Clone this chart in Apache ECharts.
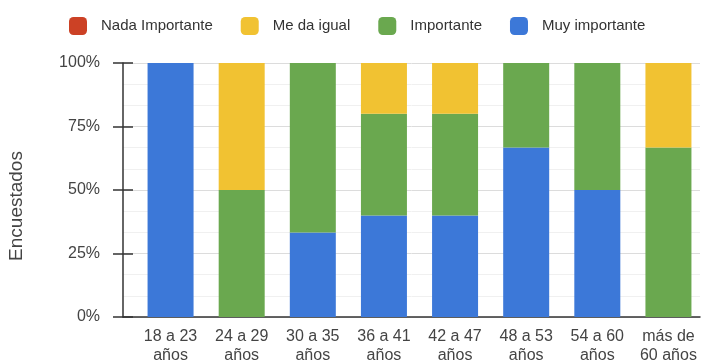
<!DOCTYPE html>
<html>
<head>
    <meta charset="utf-8" />
    <title>Encuestados por edad</title>
    <script src="https://cdn.jsdelivr.net/npm/echarts@6/dist/echarts.min.js"></script>
    <style type="text/css">
        body { margin: 0; padding: 0; background-color: #fff; overflow: hidden; }
        #main { width: 707px; height: 362px; }
    </style>
</head>
<body>
    <div id="main"></div>
    <script type="text/javascript">
        // datos
        var categorias = ['18 a 23\naños', '24 a 29\naños', '30 a 35\naños', '36 a 41\naños',
            '42 a 47\naños', '48 a 53\naños', '54 a 60\naños', 'más de\n60 años'];
        var nadaImportante = [0, 0, 0, 0, 0, 0, 0, 0];
        var meDaIgual = [0, 50, 0, 20, 20, 0, 0, 33.3];
        var importante = [0, 50, 66.7, 40, 40, 33.3, 50, 66.7];
        var muyImportante = [100, 0, 33.3, 40, 40, 66.7, 50, 0];
        var ticksY = [0, 25, 50, 75, 100];

        var colores = {
            nada: '#cc4125',
            igual: '#f1c232',
            imp: '#6aa84f',
            muy: '#3c78d8'
        };

        var myChart = echarts.init(document.getElementById('main'), null, { renderer: 'canvas' });

        function serie(nombre, valores, color) {
            return {
                name: nombre,
                type: 'bar',
                stack: 'total',
                xAxisIndex: 1,
                yAxisIndex: 2,
                barWidth: 46,
                itemStyle: { color: color },
                data: valores
            };
        }

        var fuente = "'Liberation Sans', Arial, sans-serif";
        var yComun = {
            type: 'value',
            min: ticksY[0],
            max: ticksY[ticksY.length - 1],
            interval: 25
        };
        var lineaEje = { color: '#333', width: 1.5 };

        var option = {
            animation: false,
            textStyle: { fontFamily: fuente },
            legend: {
                top: 12,
                left: 64,
                icon: 'roundRect',
                itemWidth: 18,
                itemHeight: 18,
                itemGap: 28,
                textStyle: { fontSize: 15, color: '#333', padding: [0, 0, 0, 9] },
                data: ['Nada Importante', 'Me da igual', 'Importante', 'Muy importante']
            },
            grid: [
                // rejilla de fondo (lineas, eje y)
                { left: 123, right: 7, top: 63, bottom: 45, outerBoundsMode: 'none' },
                // rejilla de las barras
                { left: 135, right: 3, top: 63, bottom: 45, outerBoundsMode: 'none' }
            ],
            xAxis: [
                {
                    gridIndex: 0,
                    type: 'value',
                    min: 0,
                    max: 1,
                    splitLine: { show: false },
                    axisTick: { show: false },
                    axisLabel: { show: false },
                    axisLine: { show: true, onZero: false, lineStyle: lineaEje }
                },
                {
                    gridIndex: 1,
                    type: 'category',
                    data: categorias,
                    axisLine: { show: false },
                    axisTick: { show: false },
                    axisLabel: {
                        interval: 0,
                        fontSize: 16,
                        color: '#444',
                        lineHeight: 19,
                        margin: 10
                    }
                }
            ],
            yAxis: [
                Object.assign({}, yComun, {
                    gridIndex: 0,
                    name: 'Encuestados',
                    nameLocation: 'middle',
                    nameGap: 97,
                    nameTextStyle: { fontSize: 19, color: '#444', padding: [0, 32, 0, 0] },
                    axisLine: { show: true, onZero: false, lineStyle: lineaEje },
                    axisTick: { show: true, length: 10, lineStyle: lineaEje },
                    minorTick: { show: false, splitNumber: 3 },
                    minorSplitLine: { show: true, lineStyle: { color: '#f0f0f0' } },
                    splitLine: { show: true, lineStyle: { color: '#dcdcdc' } },
                    axisLabel: { formatter: '{value}%', fontSize: 16, color: '#444', margin: 23 }
                }),
                Object.assign({}, yComun, {
                    gridIndex: 0,
                    position: 'left',
                    axisLine: { show: false, onZero: false },
                    axisTick: { show: true, inside: true, length: 10, lineStyle: lineaEje },
                    splitLine: { show: false },
                    axisLabel: { show: false }
                }),
                Object.assign({}, yComun, {
                    gridIndex: 1,
                    show: false
                })
            ],
            series: [
                serie('Muy importante', muyImportante, colores.muy),
                serie('Importante', importante, colores.imp),
                serie('Me da igual', meDaIgual, colores.igual),
                serie('Nada Importante', nadaImportante, colores.nada)
            ]
        };
        myChart.setOption(option);
    </script>
</body>
</html>
